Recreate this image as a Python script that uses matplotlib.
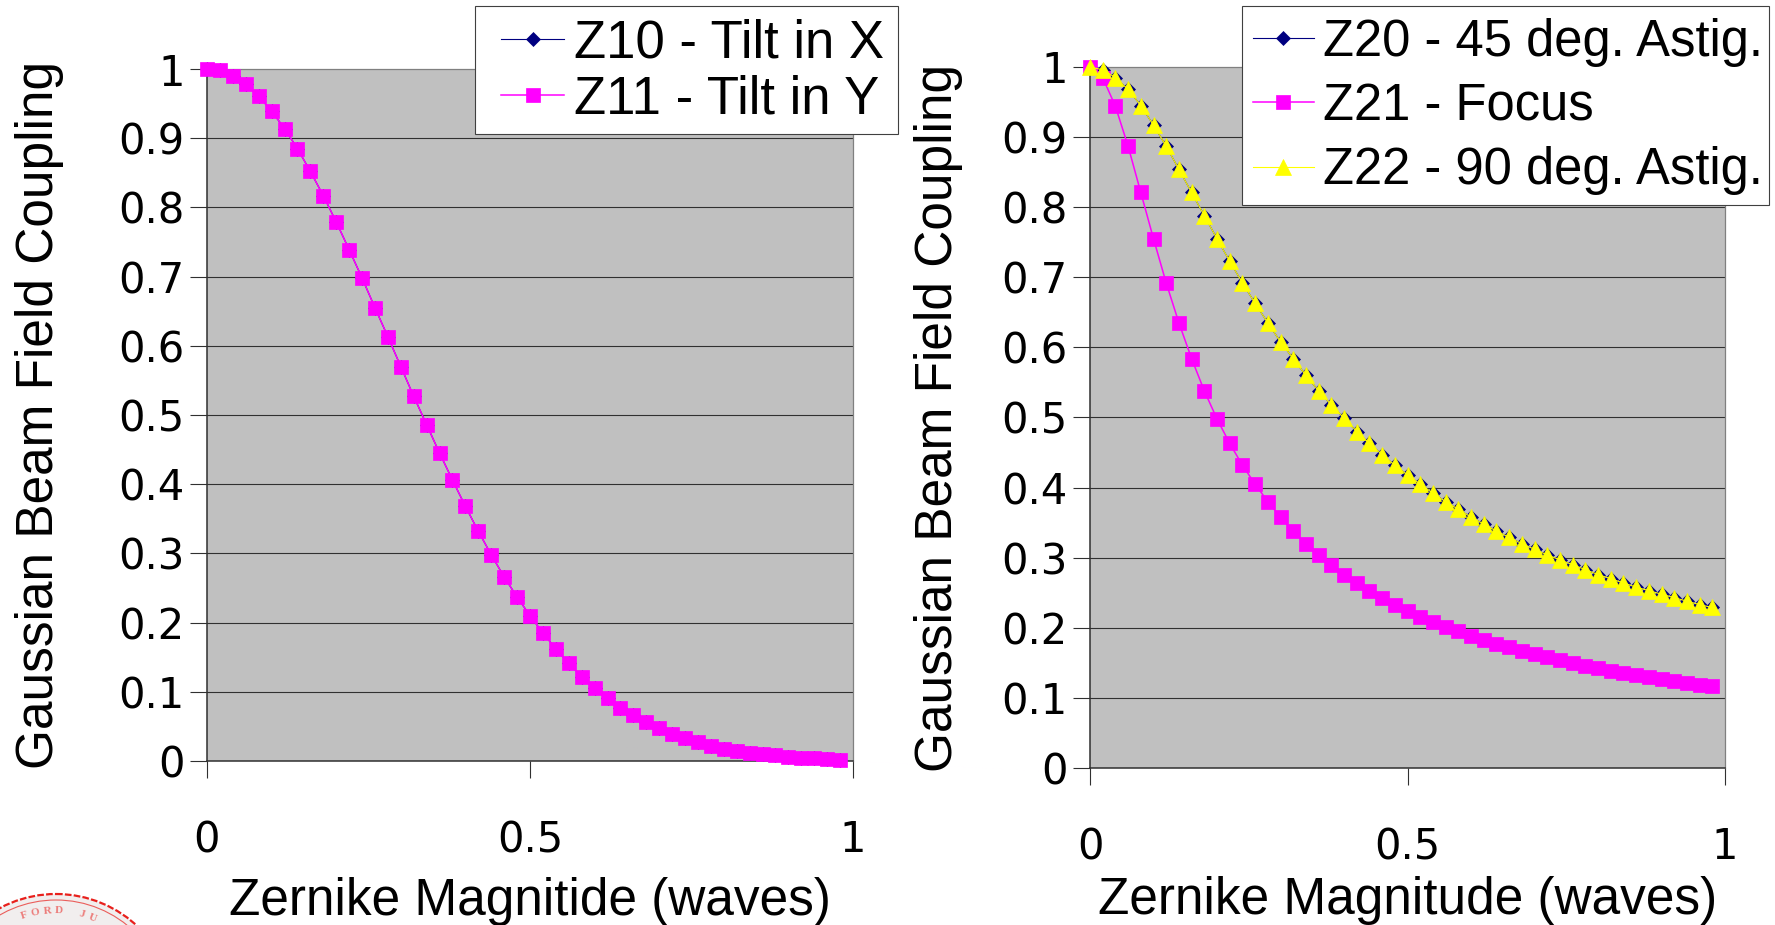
import math

import matplotlib.pyplot as plt
from matplotlib.patches import Circle
from matplotlib.path import Path

plt.rcParams['font.family'] = ['Liberation Sans', 'DejaVu Sans']

W, H = 1775, 925
DPI = 100

PLOT_BG = "#c0c0c0"
GRID = "#303030"
AXIS = "#303030"
BORDER = "#808080"
NAVY = "#000080"
MAGENTA = "#ff00ff"
YELLOW = "#ffff00"
SEAL_RED = "#e8201c"

# zernike magnitude in waves, one sample every 0.02
magnitude = [0.00, 0.02, 0.04, 0.06, 0.08, 0.10, 0.12, 0.14, 0.16, 0.18,
             0.20, 0.22, 0.24, 0.26, 0.28, 0.30, 0.32, 0.34, 0.36, 0.38,
             0.40, 0.42, 0.44, 0.46, 0.48, 0.50, 0.52, 0.54, 0.56, 0.58,
             0.60, 0.62, 0.64, 0.66, 0.68, 0.70, 0.72, 0.74, 0.76, 0.78,
             0.80, 0.82, 0.84, 0.86, 0.88, 0.90, 0.92, 0.94, 0.96, 0.98]

# Z10 / Z11 (tilt) - both curves lie on top of each other
tilt_coupling = [1.000, 0.998, 0.990, 0.978, 0.961, 0.939, 0.914, 0.885, 0.852, 0.817,
                 0.779, 0.739, 0.698, 0.655, 0.613, 0.570, 0.527, 0.486, 0.445, 0.406,
                 0.368, 0.332, 0.298, 0.266, 0.237, 0.210, 0.185, 0.162, 0.141, 0.122,
                 0.105, 0.091, 0.077, 0.066, 0.056, 0.047, 0.039, 0.033, 0.027, 0.022,
                 0.018, 0.015, 0.012, 0.010, 0.008, 0.006, 0.005, 0.004, 0.003, 0.002]

# Z20 / Z22 (astigmatism) - identical curves
astig_coupling = [1.000, 0.996, 0.985, 0.968, 0.945, 0.917, 0.887, 0.854, 0.821, 0.788,
                  0.755, 0.723, 0.692, 0.663, 0.635, 0.608, 0.584, 0.560, 0.538, 0.518,
                  0.499, 0.480, 0.463, 0.447, 0.432, 0.418, 0.405, 0.392, 0.380, 0.369,
                  0.358, 0.348, 0.338, 0.329, 0.320, 0.312, 0.304, 0.297, 0.290, 0.283,
                  0.276, 0.270, 0.264, 0.258, 0.253, 0.248, 0.243, 0.238, 0.233, 0.229]

# Z21 (focus)
focus_coupling = [1.000, 0.985, 0.944, 0.887, 0.821, 0.755, 0.692, 0.635, 0.584, 0.538,
                  0.498, 0.463, 0.432, 0.405, 0.380, 0.358, 0.338, 0.320, 0.304, 0.290,
                  0.276, 0.264, 0.253, 0.243, 0.233, 0.224, 0.216, 0.208, 0.201, 0.195,
                  0.188, 0.182, 0.177, 0.172, 0.167, 0.162, 0.158, 0.154, 0.150, 0.146,
                  0.142, 0.139, 0.136, 0.133, 0.130, 0.127, 0.124, 0.121, 0.119, 0.117]

y_ticks = [0.0, 0.1, 0.2, 0.3, 0.4, 0.5, 0.6, 0.7, 0.8, 0.9, 1.0]
y_labels = ["0", "0.1", "0.2", "0.3", "0.4", "0.5", "0.6", "0.7", "0.8", "0.9", "1"]
x_ticks = [0.0, 0.5, 1.0]
x_labels = ["0", "0.5", "1"]

y_title = "Gaussian Beam Field Coupling"
x_title_left = "Zernike Magnitide (waves)"
x_title_right = "Zernike Magnitude (waves)"

fig = plt.figure(figsize=(W / DPI, H / DPI), dpi=DPI)
fig.patch.set_facecolor("white")


def px_axes(x0, y0, x1, y1):
    return fig.add_axes([x0 / W, 1 - y1 / H, (x1 - x0) / W, (y1 - y0) / H])


def style_axes(ax, xlabel, ylab_x, xlab_y):
    ax.set_facecolor(PLOT_BG)
    ax.set_xlim(0, 1)
    ax.set_ylim(0, 1)
    ax.set_xticks(x_ticks)
    ax.set_xticklabels(x_labels, family="DejaVu Sans")
    ax.set_yticks(y_ticks)
    ax.set_yticklabels(y_labels, family="DejaVu Sans")
    ax.yaxis.grid(True, color=GRID, linewidth=0.8)
    gl = ax.yaxis.get_gridlines()
    gl[0].set_visible(False)
    gl[-1].set_visible(False)
    ax.set_axisbelow(True)
    for side in ("left", "bottom"):
        ax.spines[side].set_color(AXIS)
        ax.spines[side].set_linewidth(1.1)
    for side in ("top", "right"):
        ax.spines[side].set_color(BORDER)
        ax.spines[side].set_linewidth(0.9)
    ax.tick_params(direction="out", length=12, width=0.8, color=AXIS,
                   labelsize=30, labelcolor="black")
    ax.tick_params(axis="x", pad=30)
    ax.tick_params(axis="y", pad=4)
    ax.set_ylabel(y_title, fontsize=37)
    ax.set_xlabel(xlabel, fontsize=37)
    ax.yaxis.set_label_coords(ylab_x, 0.5)
    ax.xaxis.set_label_coords(0.5, xlab_y)


def series(ax, y, color, marker, ms, lw, label):
    ax.plot(magnitude, y, color=color, linewidth=lw, marker=marker,
            markersize=ms, markerfacecolor=color, markeredgecolor=color,
            markeredgewidth=0.5, clip_on=False, label=label, zorder=3)


def frame_style(left, right, top, bottom):
    # legend frame with its own padding on every side (pixels)
    def style(x0, y0, width, height, mutation_size):
        xa, xb = x0 - left, x0 + width + right
        ya, yb = y0 - bottom, y0 + height + top
        return Path([(xa, ya), (xb, ya), (xb, yb), (xa, yb), (xa, ya)], closed=True)
    return style


def excel_legend(ax, x, y, size, spacing, pads):
    leg = ax.legend(loc="upper left", bbox_to_anchor=(x / W, 1 - y / H),
                    bbox_transform=fig.transFigure, fontsize=size, borderaxespad=0,
                    fancybox=False, framealpha=1, borderpad=0,
                    handlelength=1.2, handletextpad=0.18, labelspacing=spacing)
    frame = leg.get_frame()
    frame.set_boxstyle(frame_style(*pads))
    frame.set_edgecolor("#404040")
    frame.set_linewidth(0.8)
    return leg


# left panel: tilt
ax1 = px_axes(207, 69, 853, 761)
style_axes(ax1, x_title_left, -0.222, -0.168)
series(ax1, tilt_coupling, NAVY, "D", 7.5, 0.8, "Z10 - Tilt in X")
series(ax1, tilt_coupling, MAGENTA, "s", 10.5, 1.1, "Z11 - Tilt in Y")
excel_legend(ax1, 501, 18, 38, 0.13, (26, 14, 12, 9))

# right panel: astigmatism and focus
ax2 = px_axes(1090, 67, 1725, 768)
style_axes(ax2, x_title_right, -0.200, -0.154)
series(ax2, astig_coupling, NAVY, "D", 7.5, 0.8, "Z20 - 45 deg. Astig.")
series(ax2, focus_coupling, MAGENTA, "s", 10.5, 1.1, "Z21 - Focus")
series(ax2, astig_coupling, YELLOW, "^", 11.5, 0.8, "Z22 - 90 deg. Astig.")
excel_legend(ax2, 1253, 18, 36.5, 0.30, (11, 6, 12, 10))

# partial seal peeking in at the bottom-left corner
seal = fig.add_axes([0, 0, 1, 1], zorder=-1)
seal.set_xlim(0, W)
seal.set_ylim(H, 0)
seal.axis("off")
cx, cy = 56, 1013
seal.add_patch(Circle((cx, cy), 119, facecolor="#f1eeee", edgecolor=SEAL_RED,
                      linewidth=1.6, linestyle=(0, (3, 1))))
seal.add_patch(Circle((cx, cy), 113, facecolor="none", edgecolor=SEAL_RED,
                      linewidth=0.8, alpha=0.7))
seal_text = "LAND STANFORD JUNIOR UNIV"
step = 6.5
start = 95 + step * 11
for i, ch in enumerate(seal_text):
    ang = math.radians(start - i * step)
    tx = cx + 102 * math.cos(ang)
    ty = cy - 102 * math.sin(ang)
    if tx < 6 or ty > H - 6 or ch == " ":
        continue
    seal.text(tx, ty, ch, fontsize=8, color=SEAL_RED, alpha=0.55,
              fontweight="bold", family="Liberation Serif",
              rotation=math.degrees(ang) - 90, ha="center", va="center")

fig.savefig("out.png", dpi=DPI, facecolor="white")
